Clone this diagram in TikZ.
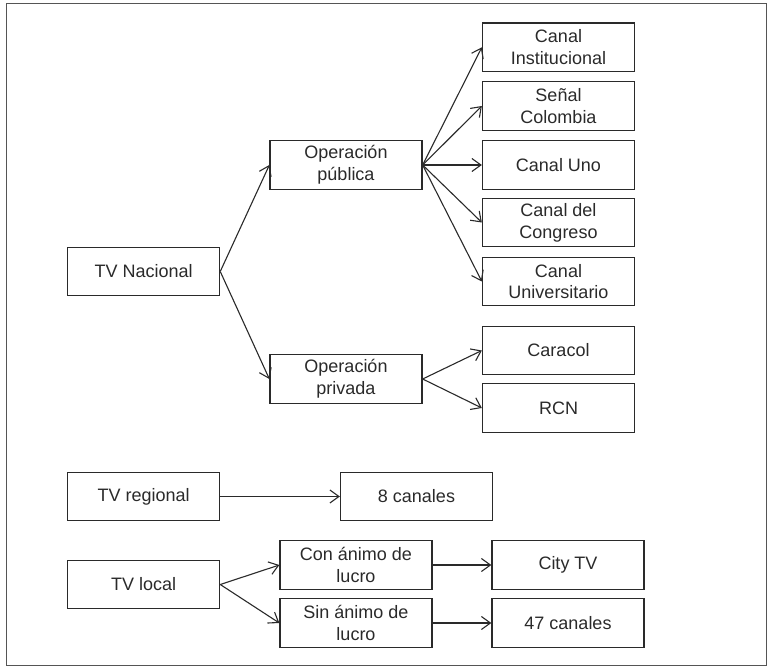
\documentclass[tikz,border=0pt]{standalone}
\usepackage{fontspec}
\setmainfont{Liberation Sans}
\usetikzlibrary{arrows.meta}
\definecolor{ink}{HTML}{2A2A2A}
\begin{document}
\begin{tikzpicture}[x=1pt,y=-1pt,
  box/.style={draw=ink,line width=1.3pt,minimum width=152pt,minimum height=48.5pt,inner sep=0pt,align=center,text=ink,font=\fontsize{18}{21.7}\selectfont},
  conn/.style={draw=ink,line width=1.1pt,-{Straight Barb[length=9pt,width=13pt,line width=1.1pt]}}]
\useasboundingbox (0,0) rectangle (768,668);
\draw[draw=ink!80,line width=1pt] (6,3.5) rectangle (766,665);
\node[box] (tvn) at (143.6,271.5) {TV Nacional};
\node[box] (pub) at (346,165) {Operación\\pública};
\node[box] (priv) at (346,379) {Operación\\privada};
\node[box] (ci) at (558.5,47.3) {Canal\\Institucional};
\node[box] (sc) at (558.5,106) {Señal\\Colombia};
\node[box] (cu) at (558.5,165) {Canal Uno};
\node[box] (cc) at (558.5,222.5) {Canal del\\Congreso};
\node[box] (cun) at (558.5,281.5) {Canal\\Universitario};
\node[box] (car) at (558.5,350.5) {Caracol};
\node[box] (rcn) at (558.5,408) {RCN};
\node[box] (tvr) at (143.6,496.5) {TV regional};
\node[box] (ocho) at (416.5,496.5) {8 canales};
\node[box] (tvl) at (143.6,584.5) {TV local};
\node[box] (con) at (356,565) {Con ánimo de\\lucro};
\node[box] (sin) at (356,623) {Sin ánimo de\\lucro};
\node[box] (city) at (568,565) {City TV};
\node[box] (cuar) at (568,623) {47 canales};
\foreach \t in {pub,priv} \draw[conn] (tvn.east) -- (\t.west);
\foreach \t in {ci,sc,cu,cc,cun} \draw[conn] (pub.east) -- (\t.west);
\foreach \t in {car,rcn} \draw[conn] (priv.east) -- (\t.west);
\draw[conn] (tvr.east) -- (ocho.west);
\draw[conn] (tvl.east) -- (con.west);
\draw[conn] (tvl.east) -- (sin.west);
\draw[conn] (con.east) -- (city.west);
\draw[conn] (sin.east) -- (cuar.west);
\end{tikzpicture}
\end{document}
